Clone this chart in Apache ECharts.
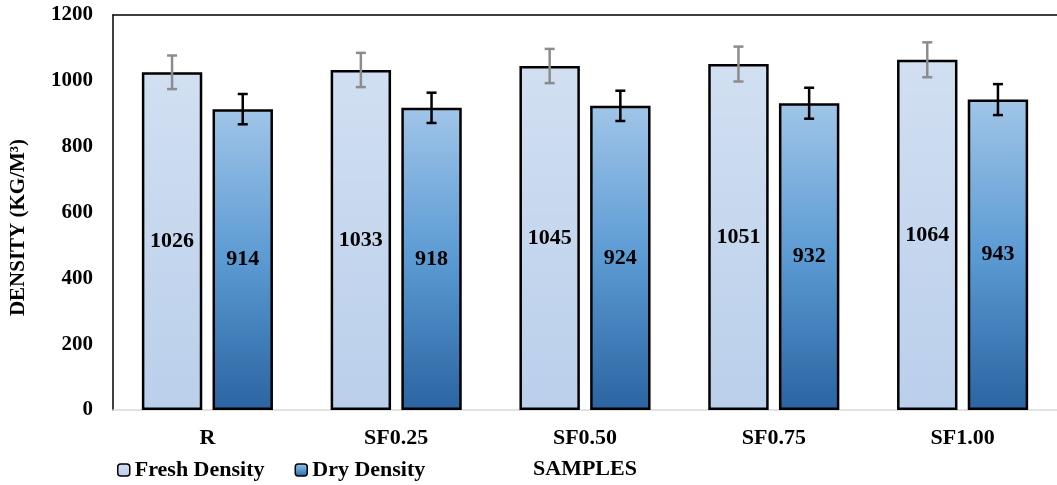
<!DOCTYPE html>
<html>
<head>
<meta charset="utf-8">
<script src="https://cdn.jsdelivr.net/npm/echarts@6/dist/echarts.min.js"></script>
<style>html,body{margin:0;padding:0;background:#fff;overflow:hidden}#c{width:1057px;height:485px}</style>
</head>
<body>
<div id="c"></div>
<script>
var categories = ['R', 'SF0.25', 'SF0.50', 'SF0.75', 'SF1.00'];
var freshDensity = [1026, 1033, 1045, 1051, 1064];
var dryDensity = [914, 918, 924, 932, 943];
var freshError = [51, 52, 52, 53, 53];
var dryError = [46, 46, 46, 47, 47];
var yTicks = [0, 200, 400, 600, 800, 1000, 1200];

var FONT = '"Liberation Serif", "Times New Roman", serif';
var BAR_W = 0.32, BAR_GAP = 0.17;

function errSeries(name, vals, errs, side, color) {
  return {
    type: 'custom',
    name: name + ' err',
    z: 10,
    silent: true,
    data: vals.map(function (v, i) { return [i, v, errs[i]]; }),
    renderItem: function (params, api) {
      var band = api.size([1, 0])[0];
      var bw = band * BAR_W;
      var off = side * (bw + bw * BAR_GAP) / 2;
      var c = api.coord([api.value(0), api.value(1)]);
      var x = c[0] + off;
      var hi = api.coord([api.value(0), api.value(1) + api.value(2)])[1];
      var lo = api.coord([api.value(0), api.value(1) - api.value(2)])[1];
      var cap = 5;
      var st = { stroke: color, lineWidth: 2.5 };
      return {
        type: 'group',
        children: [
          { type: 'line', shape: { x1: x, y1: hi, x2: x, y2: lo }, style: st },
          { type: 'line', shape: { x1: x - cap, y1: hi, x2: x + cap, y2: hi }, style: st },
          { type: 'line', shape: { x1: x - cap, y1: lo, x2: x + cap, y2: lo }, style: st }
        ]
      };
    }
  };
}

var chart = echarts.init(document.getElementById('c'));
chart.setOption({
  animation: false,
  backgroundColor: '#ffffff',
  grid: { left: 111, top: 15, right: -8, bottom: 75, containLabel: false },
  legend: {
    left: 112, top: 454,
    itemWidth: 12, itemHeight: 12, itemGap: 30,
    data: ['Fresh Density', 'Dry Density'],
    textStyle: { fontFamily: FONT, fontWeight: 'bold', fontSize: 22, color: '#000' },
    itemStyle: { borderColor: '#000', borderWidth: 1.5 }
  },
  xAxis: [{
    type: 'category',
    data: categories,
    name: 'SAMPLES',
    nameLocation: 'middle',
    nameGap: 48,
    nameTextStyle: { fontFamily: FONT, fontWeight: 'bold', fontSize: 22, color: '#000' },
    axisLine: { lineStyle: { color: '#d9d9d9', width: 1.5 } },
    axisTick: { show: false },
    axisLabel: { fontFamily: FONT, fontWeight: 'bold', fontSize: 22, color: '#000', margin: 17 }
  }, {
    type: 'category',
    data: categories,
    position: 'top',
    axisLine: { lineStyle: { color: '#000', width: 1.5 } },
    axisTick: { show: false },
    axisLabel: { show: false }
  }],
  yAxis: {
    type: 'value',
    min: 0, max: 1200, interval: 200,
    name: 'DENSITY (KG/M³)',
    nameLocation: 'middle',
    nameGap: 84,
    nameTextStyle: { fontFamily: FONT, fontWeight: 'bold', fontSize: 21, color: '#000', padding: [0, 30, 0, 0] },
    axisLine: { show: true, lineStyle: { color: '#000', width: 1.5 } },
    axisTick: { show: false },
    splitLine: { show: false },
    axisLabel: {
      fontFamily: FONT, fontWeight: 'bold', fontSize: 21, color: '#000', margin: 20,
      formatter: function (v) { return yTicks.indexOf(v) >= 0 ? String(v) : ''; }
    }
  },
  series: [{
    type: 'bar',
    name: 'Fresh Density',
    data: freshDensity,
    barWidth: (BAR_W * 100) + '%',
    barGap: (BAR_GAP * 100) + '%',
    itemStyle: {
      color: new echarts.graphic.LinearGradient(0, 0, 0, 1, [
        { offset: 0, color: '#d1dff1' }, { offset: 1, color: '#bacfeb' }
      ]),
      borderColor: '#000', borderWidth: 2.5
    },
    label: {
      show: true, position: 'inside',
      fontFamily: FONT, fontWeight: 'bold', fontSize: 22, color: '#000'
    }
  }, {
    type: 'bar',
    name: 'Dry Density',
    data: dryDensity,
    barWidth: (BAR_W * 100) + '%',
    barGap: (BAR_GAP * 100) + '%',
    itemStyle: {
      color: new echarts.graphic.LinearGradient(0, 0, 0, 1, [
        { offset: 0, color: '#a0c5e8' }, { offset: 0.5, color: '#5b9ad3' }, { offset: 1, color: '#2b64a1' }
      ]),
      borderColor: '#000', borderWidth: 2.5
    },
    label: {
      show: true, position: 'inside',
      fontFamily: FONT, fontWeight: 'bold', fontSize: 22, color: '#000'
    }
  },
  errSeries('Fresh Density', freshDensity, freshError, -1, '#8c8c8c'),
  errSeries('Dry Density', dryDensity, dryError, 1, '#000000')
  ]
});
</script>
</body>
</html>
